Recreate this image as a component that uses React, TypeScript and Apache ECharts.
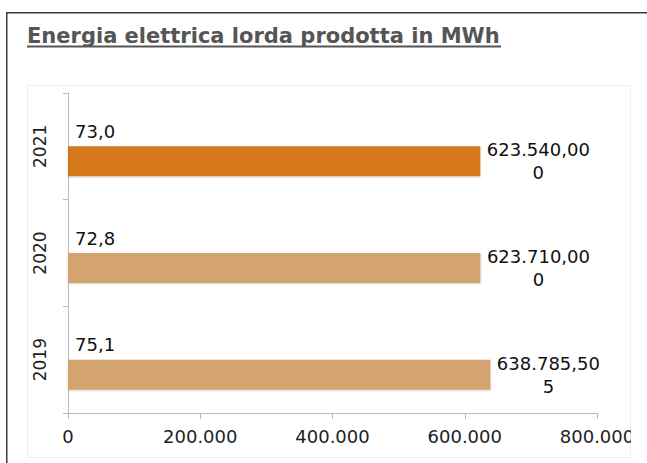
import React, { useEffect, useRef } from "react";
import * as echarts from "echarts";

const title = "Energia elettrica lorda prodotta in MWh";
const years = ["2019", "2020", "2021"];
const energyMWh = [638785.505, 623710.0, 623540.0];
const smallValues = [75.1, 72.8, 73.0];
const barColors = ["#D4A470", "#D4A470", "#D5791C"];
const xTicks = [0, 200000, 400000, 600000, 800000];

const FONT = "DejaVu Sans, Verdana, sans-serif";

function fmtThousands(v: number): string {
  return String(Math.round(v)).replace(/\B(?=(\d{3})+(?!\d))/g, ".");
}

function fmtBig(v: number): string {
  const fixed = v.toFixed(3);
  const [i, d] = fixed.split(".");
  const s = fmtThousands(Number(i)) + "," + d;
  return s.slice(0, 10) + "\n" + s.slice(10);
}

export default function App() {
  const ref = useRef<HTMLDivElement>(null);
  useEffect(() => {
    if (!ref.current) return;
    const chart = echarts.init(ref.current, undefined, { renderer: "svg" });
    chart.setOption({
      animation: false,
      backgroundColor: "#ffffff",
      graphic: [
        {
          type: "line",
          z: -10,
          shape: { x1: 6.75, y1: 12.75, x2: 660, y2: 12.75 },
          style: { stroke: "#3a3a3a", lineWidth: 1.5 },
          silent: true,
        },
        {
          type: "line",
          z: -10,
          shape: { x1: 6.75, y1: 12, x2: 6.75, y2: 470 },
          style: { stroke: "#3a3a3a", lineWidth: 1.5 },
          silent: true,
        },
        {
          type: "rect",
          z: -9,
          shape: { x: 27.5, y: 85.5, width: 603, height: 372 },
          style: { fill: "#ffffff", stroke: "#eeeeee", lineWidth: 1 },
          silent: true,
        },
        {
          type: "rect",
          z: 100,
          shape: { x: 631, y: 14, width: 30, height: 460 },
          style: { fill: "#ffffff" },
          silent: true,
        },
        {
          type: "text",
          x: 27,
          y: 25,
          style: {
            text: title,
            fill: "#555555",
            font: `bold 21px ${FONT}`,
            verticalAlign: "top",
          },
        },
        {
          type: "line",
          shape: { x1: 27, y1: 46.5, x2: 501, y2: 46.5 },
          style: { stroke: "#555555", lineWidth: 2 },
        },
      ],
      grid: { left: 68, right: 50, top: 93, bottom: 50, containLabel: false },
      xAxis: {
        type: "value",
        min: 0,
        max: 800000,
        interval: 200000,
        axisLine: { show: true, lineStyle: { color: "#bbbbbb" } },
        axisTick: { show: true, length: 6, lineStyle: { color: "#bbbbbb" } },
        splitLine: { show: false },
        axisLabel: {
          color: "#222222",
          fontSize: 18,
          fontFamily: FONT,
          margin: 14,
          formatter: (v: number) => (xTicks.includes(v) ? fmtThousands(v) : ""),
        },
      },
      yAxis: {
        type: "category",
        data: years,
        axisLine: { show: true, lineStyle: { color: "#bbbbbb" } },
        axisTick: { show: true, length: 5, lineStyle: { color: "#bbbbbb" } },
        axisLabel: {
          rotate: 90,
          color: "#222222",
          fontSize: 17,
          fontFamily: FONT,
          margin: 20,
        },
      },
      series: [
        {
          type: "bar",
          barWidth: 30,
          barGap: "0%",
          data: smallValues,
          itemStyle: { color: "rgba(0,0,0,0)" },
          label: {
            show: true,
            position: "right",
            distance: 7,
            color: "#111111",
            fontSize: 18,
            fontFamily: FONT,
            formatter: (p: any) => p.value.toFixed(1).replace(".", ","),
          },
        },
        {
          type: "bar",
          barWidth: 30,
          barGap: "0%",
          data: energyMWh.map((v, i) => ({
            value: v,
            itemStyle: { color: barColors[i] },
          })),
          itemStyle: {
            shadowColor: "rgba(0,0,0,0.18)",
            shadowBlur: 2,
            shadowOffsetY: 1,
          },
          label: {
            show: true,
            position: "right",
            distance: 6,
            align: "center",
            offset: [52, 0],
            color: "#111111",
            fontSize: 18,
            fontFamily: FONT,
            lineHeight: 23,
            formatter: (p: any) => fmtBig(p.value),
          },
        },
      ],
    });
    return () => chart.dispose();
  }, []);
  return (
    <div
      ref={ref}
      style={{ position: "fixed", left: 0, top: 0, width: 647, height: 463 }}
    />
  );
}
